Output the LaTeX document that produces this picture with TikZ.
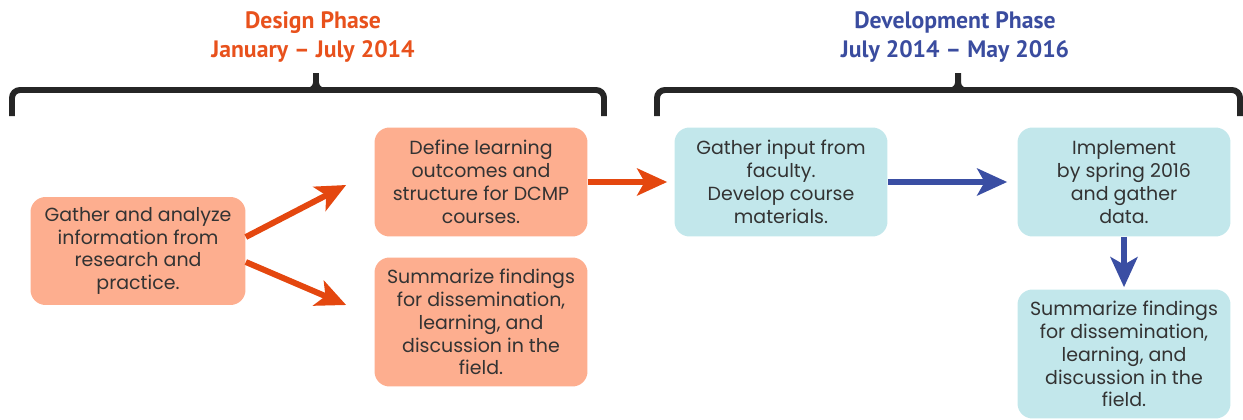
\documentclass[tikz,border=0pt]{standalone}
\usepackage{fontspec}
\setmainfont{Poppins}
\newfontfamily\headfont{PT Sans}
\usetikzlibrary{arrows.meta,calc}

\definecolor{designfill}{HTML}{FDAE8F}
\definecolor{devfill}{HTML}{C2E7EB}
\definecolor{designline}{HTML}{E4470F}
\definecolor{devline}{HTML}{3A4EA3}
\definecolor{designhead}{HTML}{E8511C}
\definecolor{devhead}{HTML}{3A4C9F}
\definecolor{bodytext}{HTML}{333333}

\begin{document}
\begin{tikzpicture}
        [
            x = 0.02cm, y = -0.02cm,
            phase/.style = {font = \headfont\bfseries\fontsize{13.5}{16}\selectfont, align = center},
            task/.style = {rounded corners = 0.3cm, align = center, text = bodytext,
                font = \fontsize{10.8}{13}\selectfont, minimum width = 4.26cm, minimum height = 2.18cm,
                inner sep = 0pt},
            design/.style = {task, fill = designfill},
            dev/.style = {task, fill = devfill},
            brace/.style = {draw = black!85, line width = 3.4pt},
            flow/.style = {line width = 3.4pt,
                -{Stealth[length = 0.6cm, width = 0.54cm, inset = 0.15cm]}}
        ]

        \useasboundingbox (0,0) rectangle (1243,419);

        % phase headings
        \node [phase, text = designhead] (designhead) at (313,37) {Design Phase\\January – July 2014};
        \node [phase, text = devhead] (devhead) at (955,37) {Development Phase\\July 2014 – May 2016};

        % braces
        \draw [brace] (12,116) [rounded corners = 0.16cm] -- (12,90) -- (304,90)
            [sharp corners] to[out=0,in=-90] (316,83) -- (316,73);
        \draw [brace] (604,116) [rounded corners = 0.16cm] -- (604,90) -- (328,90)
            [sharp corners] to[out=180,in=-90] (316,83);
        \draw [brace] (657,116) [rounded corners = 0.16cm] -- (657,90) -- (946,90)
            [sharp corners] to[out=0,in=-90] (958,83) -- (958,73);
        \draw [brace] (1240,116) [rounded corners = 0.16cm] -- (1240,90) -- (970,90)
            [sharp corners] to[out=180,in=-90] (958,83);

        % design phase
        \node [design, minimum width = 4.3cm, minimum height = 2.16cm] (gather) at (138,251)
            {Gather and analyze\\information from\\research and\\practice.};
        \node [design] (define) at (481,182)
            {Define learning\\outcomes and\\structure for DCMP\\courses.};
        \node [design, minimum height = 2.58cm] (summary) at (481,322)
            {Summarize findings\\for dissemination,\\learning, and\\discussion in the\\field.};

        % development phase
        \node [dev] (input) at (781,182)
            {Gather input from\\faculty.\\Develop course\\materials.};
        \node [dev] (implement) at (1124,182)
            {Implement\\by spring 2016\\and gather\\data.};
        \node [dev, minimum height = 2.58cm] (report) at (1124,354)
            {Summarize findings\\for dissemination,\\learning, and\\discussion in the\\field.};

        % arrows
        \draw [flow, designline] ($(gather.east)+(0,-14)$) -- ($(define.west)+(-28,3)$);
        \draw [flow, designline] ($(gather.east)+(0,11)$) -- ($(summary.west)+(-28,-17)$);
        \draw [flow, designline, shorten > = 0.14cm] (define) -- (input);
        \draw [flow, devline, shorten > = 0.2cm] (input) -- (implement);
        \draw [flow, devline, shorten > = 0.04cm] (implement) -- (report);
    \end{tikzpicture}
\end{document}
